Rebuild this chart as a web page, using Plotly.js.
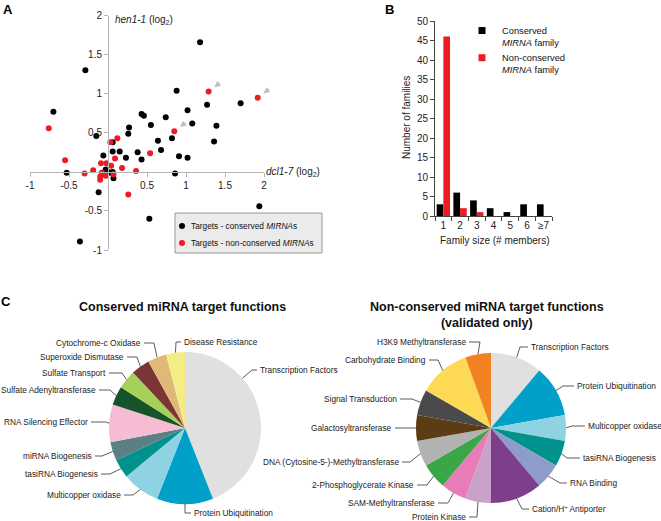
<!DOCTYPE html>
<html><head><meta charset="utf-8">
<script src="https://cdn.plot.ly/plotly-3.0.1.min.js"></script>
<style>html,body{margin:0;padding:0;background:#fff;}#chart{width:661px;height:521px;}</style>
</head><body><div id="chart"></div>
<script>
// ---------- DATA ----------
// Panel A: log2 fold change in dcl1-7 (x) vs hen1-1 (y)
const conservedX = [1.18,-0.29,0.88,-0.70,1.70,1.27,1.02,0.43,0.46,0.74,0.27,0.55,1.08,1.39,0.26,-0.15,0.64,0.82,1.36,0.06,0.06,0.15,0.38,0.68,-0.06,0.23,0.91,1.02,0.43,-0.53,0.86,-0.03,0.06,-0.05,0.07,-0.12,1.94,0.53,-0.36,0.00,0.03];
const conservedY = [1.66,1.30,1.04,0.77,0.88,0.86,0.79,0.74,0.72,0.70,0.57,0.60,0.62,0.59,0.49,0.46,0.40,0.43,0.39,0.38,0.26,0.26,0.25,0.28,0.21,0.18,0.20,0.18,0.16,-0.01,-0.02,0.03,0.00,-0.02,-0.08,-0.26,-0.44,-0.60,-0.89,0.00,-0.01];
const nonconservedX = [1.29,1.92,-0.76,0.85,0.12,0.03,0.54,-0.55,0.09,-0.09,-0.02,0.04,-0.19,-0.30,0.18,0.36,-0.10,-0.10,-0.03,0.07,0.26,-0.08];
const nonconservedY = [1.03,0.95,0.56,0.52,0.43,0.38,0.24,0.15,0.17,0.11,0.11,0.08,0.02,-0.02,0.05,0.01,-0.06,-0.10,-0.05,-0.03,-0.29,-0.01];
const highlighted = [0,1,3]; // non-conserved targets marked with arrows
const seriesNamesA = ['Targets - conserved <i>MIRNA</i>s', 'Targets - non-conserved <i>MIRNA</i>s'];

// Panel B: family size distribution
const familySize = ['1','2','3','4','5','6','≥7'];
const conservedFamilies = [3,6,4,2,1,3,3];
const nonconservedFamilies = [46,2,1,0,0,0,0];

// Panel C: target functions
const conservedFunctions = ['Transcription Factors','Protein Ubiquitination','Multicopper oxidase','tasiRNA Biogenesis','miRNA Biogenesis','RNA Silencing Effector','Sulfate Adenyltransferase','Sulfate Transport','Superoxide Dismutase','Cytochrome-c Oxidase','Disease Resistance'];
const conservedCounts = [11,3,2,1,1,2,1,1,1,1,1];
const nonconservedFunctions = ['Transcription Factors','Protein Ubiquitination','Multicopper oxidase','tasiRNA Biogenesis','RNA Binding','Cation/H<sup>+</sup> Antiporter','Protein Kinase','SAM-Methyltransferase','2-Phosphoglycerate Kinase','DNA (Cytosine-5-)-Methyltransferase','Galactosyltransferase','Signal Transduction','Carbohydrate Binding','H3K9 Methyltransferase'];
const nonconservedCounts = [2,2,1,1,1,2,1,1,1,1,1,1,2,1];

// ---------- STYLE ----------
const W = 661, H = 521;
const FONT = 'Liberation Sans, Arial, sans-serif';
const BLACK = '#000000', RED = '#ec1c24';
const conservedColors = ['#e0e0e0','#00a0c8','#8fd3e3','#00928c','#5b7f82','#f5bcd3','#17532a','#a6d05a','#7c3535','#e1b877','#f4ec84'];
const nonconservedColors = ['#e0e0e0','#00a0c8','#8fd3e3','#00928c','#8e9ccb','#7d3f8a','#c9a2c9','#e87cb6','#3aa648','#b2b2b2','#5c3c15','#4a4a4a','#fdd955','#f18121'];
const px = v => v / W, py = v => 1 - v / H;

// label layout (pixels): side, text anchor x, y, elbow x, optional fraction along slice
const conservedLabelLayout = [
  {side:'r', lx:259, ly:370, ex:252, f:0.31},
  {side:'r', lx:193, ly:513, ex:185},
  {side:'l', lx:122, ly:495, ex:133},
  {side:'l', lx:99,  ly:474, ex:110},
  {side:'l', lx:93,  ly:456, ex:102},
  {side:'l', lx:89,  ly:422, ex:106},
  {side:'l', lx:97,  ly:390, ex:110},
  {side:'l', lx:107, ly:373, ex:122},
  {side:'l', lx:125, ly:357, ex:137},
  {side:'l', lx:142, ly:343, ex:154},
  {side:'r', lx:183, ly:342, ex:176}
];
const nonconservedLabelLayout = [
  {side:'r', lx:530, ly:347, ex:520},
  {side:'r', lx:576, ly:386, ex:563},
  {side:'r', lx:587, ly:426, ex:572},
  {side:'r', lx:582, ly:458, ex:567},
  {side:'r', lx:569, ly:483, ex:560},
  {side:'r', lx:531, ly:509, ex:522},
  {side:'l', lx:467, ly:517, ex:477},
  {side:'l', lx:436, ly:503, ex:448},
  {side:'l', lx:415, ly:485, ex:427},
  {side:'l', lx:400, ly:462, ex:410},
  {side:'l', lx:393, ly:428, ex:410},
  {side:'l', lx:398, ly:399, ex:412},
  {side:'l', lx:427, ly:360, ex:438},
  {side:'l', lx:467, ly:342, ex:480}
];

const pieDomL = {x:[px(109), px(261)], y:[py(504), py(352)]};
const pieDomR = {x:[px(416), px(566)], y:[py(503), py(353)]};

// ---------- PANEL A axes ----------
const xRangeA = [-1, 2], yRangeA = [-1, 2];
const xDomA = [px(30), px(264)], yDomA = [py(250), py(15.7)];
const xPosA = yDomA[0] + (0 - yRangeA[0]) / (yRangeA[1] - yRangeA[0]) * (yDomA[1] - yDomA[0]);
const yPosA = xDomA[0] + (0 - xRangeA[0]) / (xRangeA[1] - xRangeA[0]) * (xDomA[1] - xDomA[0]);

const traces = [];
traces.push({type:'scatter', mode:'markers', x:conservedX, y:conservedY, xaxis:'x', yaxis:'y',
  name:seriesNamesA[0], showlegend:false, marker:{color:BLACK, size:6}, cliponaxis:false});
traces.push({type:'scatter', mode:'markers', x:nonconservedX, y:nonconservedY, xaxis:'x', yaxis:'y',
  name:seriesNamesA[1], showlegend:false, marker:{color:RED, size:6}, cliponaxis:false});

// ---------- PANEL B ----------
traces.push({type:'bar', x:familySize, y:conservedFamilies, xaxis:'x2', yaxis:'y2', marker:{color:BLACK}, showlegend:false, name:'Conserved'});
traces.push({type:'bar', x:familySize, y:nonconservedFamilies, xaxis:'x2', yaxis:'y2', marker:{color:RED}, showlegend:false, name:'Non-conserved'});
traces.push({type:'scatter', mode:'markers', x:[null], y:[null], xaxis:'x2', yaxis:'y2', legend:'legend2',
  name:'Conserved<br><i>MIRNA</i> family', marker:{color:BLACK, symbol:'square', size:7}});
traces.push({type:'scatter', mode:'markers', x:[null], y:[null], xaxis:'x2', yaxis:'y2', legend:'legend2',
  name:'Non-conserved<br><i>MIRNA</i> family', marker:{color:RED, symbol:'square', size:7}});

// ---------- PANEL C ----------
traces.push({type:'pie', labels:conservedFunctions, values:conservedCounts, domain:pieDomL, sort:false,
  direction:'clockwise', rotation:0, textinfo:'none', showlegend:false, hoverinfo:'label+value',
  marker:{colors:conservedColors, line:{width:0}}});
traces.push({type:'pie', labels:nonconservedFunctions, values:nonconservedCounts, domain:pieDomR, sort:false,
  direction:'clockwise', rotation:0, textinfo:'none', showlegend:false, hoverinfo:'label+value',
  marker:{colors:nonconservedColors, line:{width:0}}});

const annotations = [];
const shapes = [];
function note(text, x, y, opts) {
  annotations.push(Object.assign({text:text, xref:'paper', yref:'paper', x:px(x), y:py(y), xanchor:'center', yanchor:'middle', showarrow:false,
    font:{family:FONT, size:10, color:'#222'}}, opts || {}));
}

// panel letters
[['A',7.5,9],['B',389.5,9],['C',6,301]].forEach(([t,x,y]) => note('<b>'+t+'</b>', x, y, {font:{family:FONT, size:13, color:'#000'}}));

// axis titles A
note('<i>hen1-1</i> (log<sub>2</sub>)', 113, 20, {xanchor:'left'});
note('<i>dcl1-7</i> (log<sub>2</sub>)', 264, 172, {xanchor:'left'});

// legend box for panel A (grey box with two entries)
shapes.push({type:'rect', xref:'paper', yref:'paper', x0:px(175), x1:px(322), y0:py(253), y1:py(213), layer:'above',
  fillcolor:'#ebebeb', line:{color:'#9a9a9a', width:1}});
[[BLACK, 226], [RED, 243]].forEach(([c, yy], k) => {
  shapes.push({type:'circle', xref:'paper', yref:'paper', layer:'above', x0:px(179), x1:px(185), y0:py(yy + 3), y1:py(yy - 3),
    fillcolor:c, line:{color:c, width:0}});
  note(seriesNamesA[k], 190, yy, {xanchor:'left', borderpad:0, font:{family:FONT, size:8.3, color:'#111'}});
});

// arrows to highlighted non-conserved targets
highlighted.forEach(i => {
  const x0 = nonconservedX[i], y0 = nonconservedY[i];
  annotations.push({text:'', x:x0 + 0.075, y:y0 + 0.055, xref:'x', yref:'y', ax:x0 + 0.16, ay:y0 + 0.125, axref:'x', ayref:'y',
    showarrow:true, arrowhead:2, arrowsize:0.8, arrowwidth:1.5, arrowcolor:'#bdbdbd', standoff:0});
});

// axis titles B
note('Number of families', 406, 118, {textangle:-90});
note('Family size (# members)', 494, 240);

// pie titles
note('<b>Conserved miRNA target functions</b>', 182, 307, {font:{family:FONT, size:12.5, color:'#111'}});
note('<b>Non-conserved miRNA target functions<br>(validated only)</b>', 487, 315, {font:{family:FONT, size:12.5, color:'#111'}});

// pie labels and leader lines
function addPieLabels(labels, values, dom, lay) {
  const cx = (dom.x[0] + dom.x[1]) / 2 * W;
  const cy = (1 - (dom.y[0] + dom.y[1]) / 2) * H;
  const r = Math.min((dom.x[1] - dom.x[0]) * W, (dom.y[1] - dom.y[0]) * H) / 2;
  const total = values.reduce((a, b) => a + b, 0);
  let acc = 0;
  labels.forEach((lab, i) => {
    const L = lay[i];
    const f = L.f !== undefined ? L.f : 0.5;
    const ang = (acc + values[i] * f) / total * 2 * Math.PI;
    acc += values[i];
    const sx = cx + r * Math.sin(ang), sy = cy - r * Math.cos(ang);
    const endX = L.side === 'l' ? L.lx + 2 : L.lx - 2;
    shapes.push({type:'path', xref:'paper', yref:'paper', layer:'above',
      path:`M${px(sx)},${py(sy)} L${px(L.ex)},${py(L.ly)} L${px(endX)},${py(L.ly)}`,
      line:{color:'#333', width:0.8}});
    note(lab, L.lx, L.ly, {xanchor:L.side === 'l' ? 'right' : 'left', borderpad:0,
      font:{family:FONT, size:8.3, color:'#222'}});
  });
}
addPieLabels(conservedFunctions, conservedCounts, pieDomL, conservedLabelLayout);
addPieLabels(nonconservedFunctions, nonconservedCounts, pieDomR, nonconservedLabelLayout);

const layout = {
  width: W, height: H,
  margin: {l:0, r:0, t:0, b:0},
  paper_bgcolor: '#fff', plot_bgcolor: 'rgba(0,0,0,0)',
  font: {family: FONT, size: 10, color: '#222'},
  barmode: 'group', bargap: 0.2, bargroupgap: 0,
  xaxis: {domain:xDomA, range:xRangeA, anchor:'free', position:xPosA, showgrid:false, zeroline:false,
    showline:true, linecolor:'#b5b5b5', linewidth:1, ticks:'outside', ticklen:4, tickcolor:'#b5b5b5',
    tickvals:[-1,-0.5,0.5,1,1.5,2], ticktext:['-1','-0.5','0.5','1','1.5','2'], tickfont:{size:10, color:'#222'}},
  yaxis: {domain:yDomA, range:yRangeA, anchor:'free', position:yPosA, showgrid:false, zeroline:false,
    showline:true, linecolor:'#b5b5b5', linewidth:1, ticks:'outside', ticklen:4, tickcolor:'#b5b5b5',
    tickvals:[-1,-0.5,0.5,1,1.5,2], ticktext:['-1','-0.5','0.5','1','1.5','2'], tickfont:{size:10, color:'#222'}},
  xaxis2: {domain:[px(435), px(552)], anchor:'y2', type:'category', showgrid:false, zeroline:false,
    showline:true, linecolor:'#444', linewidth:1, ticks:'outside', ticklen:4, tickcolor:'#444', tickson:'boundaries',
    tickangle:0, tickfont:{size:10, color:'#222'}},
  yaxis2: {domain:[py(216), py(21)], anchor:'x2', range:[0,50], dtick:5, showgrid:false, zeroline:false,
    showline:true, linecolor:'#444', linewidth:1, ticks:'outside', ticklen:4, tickcolor:'#444',
    tickfont:{size:10, color:'#222'}},
  legend2: {x:px(462), y:py(18), xanchor:'left', yanchor:'top', bgcolor:'rgba(0,0,0,0)', borderwidth:0, valign:'top',
    font:{family:FONT, size:9.3, color:'#111'}, tracegroupgap:0, itemclick:false},
  annotations: annotations,
  shapes: shapes,
  showlegend: true
};

Plotly.newPlot('chart', traces, layout, {displayModeBar:false, staticPlot:true});
</script></body></html>
